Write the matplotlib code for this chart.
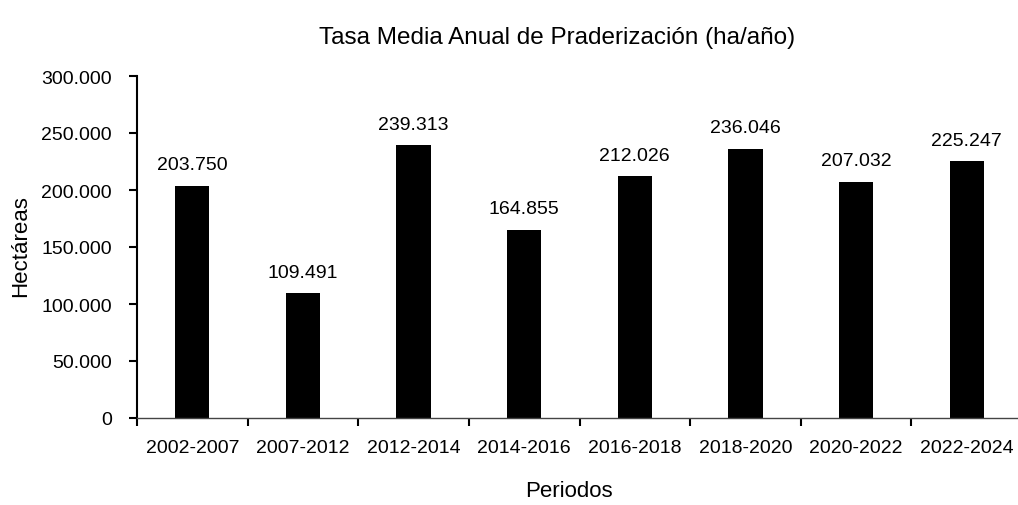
import matplotlib
matplotlib.use('Agg')
import matplotlib.pyplot as plt
import numpy as np

# Datos
periodos = ['2002-2007', '2007-2012', '2012-2014', '2014-2016',
            '2016-2018', '2018-2020', '2020-2022', '2022-2024']
hectareas = [203750, 109491, 239313, 164855, 212026, 236046, 207032, 225247]
yticks = [0, 50000, 100000, 150000, 200000, 250000, 300000]

plt.rcParams['font.family'] = ['Liberation Sans', 'DejaVu Sans']


def fmt(v):
    return f'{v:,.0f}'.replace(',', '.')


fig = plt.figure(figsize=(10.18, 5.06), dpi=100)
ax = fig.add_axes([137 / 1018, 1 - 419 / 506, 885 / 1018, 342 / 506])

x = np.arange(len(periodos))
ax.bar(x, hectareas, width=0.31, color='black')

for xi, v in zip(x, hectareas):
    ax.annotate(fmt(v), (xi, v), xytext=(0, 12), textcoords='offset points',
                ha='center', va='baseline', fontsize=14)

ax.set_xlim(-0.5, 7.5)
ax.set_ylim(0, 300000)
ax.set_yticks(yticks)
ax.set_yticklabels([fmt(t) for t in yticks], fontsize=14)

# etiquetas centradas, marcas entre categorias
ax.set_xticks(np.arange(-0.5, 8, 1))
ax.set_xticklabels([])
ax.set_xticks(x, minor=True)
ax.set_xticklabels(periodos, minor=True, fontsize=14)
ax.tick_params(axis='x', which='minor', length=0, pad=15)
ax.tick_params(axis='x', which='major', length=6, width=1.5, direction='out')
ax.tick_params(axis='y', length=6, width=1.5, direction='out', pad=12)

for s in ['top', 'right']:
    ax.spines[s].set_visible(False)
ax.spines['left'].set_linewidth(1.5)
ax.spines['bottom'].set_linewidth(1.0)
ax.spines['bottom'].set_color('#444444')

fig.text(21 / 1018, 1 - 246 / 506, 'Hectáreas', rotation=90,
         ha='center', va='center', fontsize=16)
fig.text(569 / 1018, 1 - 492 / 506, 'Periodos',
         ha='center', va='center', fontsize=16)
fig.text(557 / 1018, 1 - 38 / 506, 'Tasa Media Anual de Praderización (ha/año)',
         ha='center', va='center', fontsize=17.5)

fig.savefig('out.png', dpi=100)
